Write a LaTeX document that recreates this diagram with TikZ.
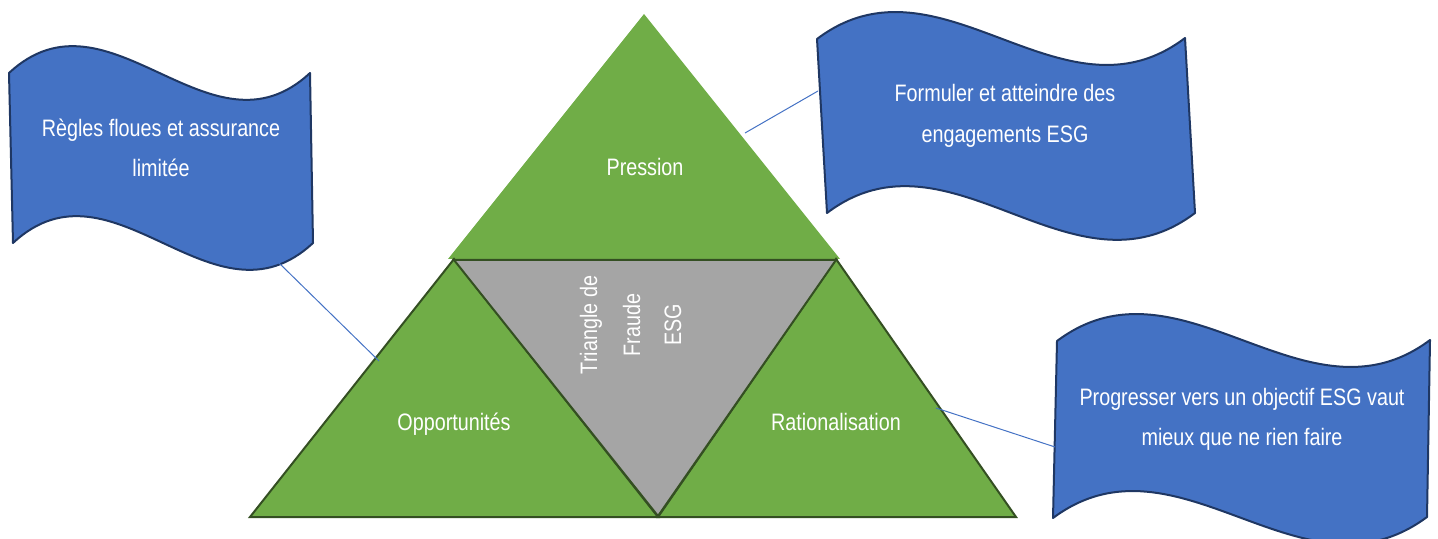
\documentclass[tikz,border=0pt]{standalone}
\usepackage{fontspec}
\setmainfont[FakeStretch=0.83]{Liberation Sans}
\definecolor{tgreen}{HTML}{70AD47}
\definecolor{tdark}{HTML}{344F22}
\definecolor{tgray}{HTML}{A5A5A5}
\definecolor{fblue}{HTML}{4472C4}
\definecolor{fedge}{HTML}{1F3763}
\tikzset{
  tri/.style={fill=tgreen, draw=tdark, line width=1pt, line join=miter},
  toptri/.style={fill=tgreen},
  midtri/.style={fill=tgray, draw=tdark, line width=1pt, line join=miter},
  flag/.style={fill=fblue, draw=fedge, line width=1pt, line join=round},
  lbl/.style={text=white, font=\fontsize{11.9}{20}\selectfont, inner sep=0pt, anchor=base},
  conn/.style={draw=fblue, line width=0.5pt},
}
\begin{document}
\begin{tikzpicture}[x=0.5pt,y=-0.5pt]
\useasboundingbox (0,0) rectangle (1438,539);
\clip (0,0) rectangle (1438,539);
% triangles
\path[toptri] (448,259) -- (644,14) -- (840,259) -- cycle;
\path[tri] (250,517) -- (454,259) -- (658,517) -- cycle;
\path[tri] (658,517) -- (836,259) -- (1016,517) -- cycle;
\path[midtri] (454,260) -- (836,260) -- (658,516) -- cycle;
% flags
\path[flag] (9,73) .. controls (109,-20) and (210,166) .. (310,73)
  -- (313,243) .. controls (213,336) and (113,150) .. (13,243) -- cycle;
\path[flag] (817,39) .. controls (940,-54) and (1062,131) .. (1185,38)
  -- (1195,213) .. controls (1072,306) and (950,120) .. (827,213) -- cycle;
\path[flag] (1057,341) .. controls (1181,248) and (1306,433) .. (1430,340)
  -- (1427,517) .. controls (1302,610) and (1178,425) .. (1053,518) -- cycle;
% connectors
\coordinate (lfb) at (279,263);
\coordinate (opl) at (379,361);
\coordinate (prr) at (745,133);
\coordinate (tfl) at (818,91);
\coordinate (rar) at (936,408);
\coordinate (brl) at (1055,447);
\draw[conn] (lfb) -- (opl);
\draw[conn] (prr) -- (tfl);
\draw[conn] (rar) -- (brl);
% triangle labels
\node[lbl] (pres) at (645,176) {Pression};
\node[lbl] (opp) at (454,430) {Opportunités};
\node[lbl] (rat) at (836,430) {Rationalisation};
\node[lbl, rotate=90] (tri1) at (597,325) {Triangle de};
\node[lbl, rotate=90] (tri2) at (640,325) {Fraude};
\node[lbl, rotate=90] (tri3) at (681,325) {ESG};
% flag labels
\node[lbl] (f1a) at (161,137) {Règles floues et assurance};
\node[lbl] (f1b) at (161,177) {limitée};
\node[lbl] (f2a) at (1005,102) {Formuler et atteindre des};
\node[lbl] (f2b) at (1005,143) {engagements ESG};
\node[lbl] (f3a) at (1242,405) {Progresser vers un objectif ESG vaut};
\node[lbl] (f3b) at (1242,445) {mieux que ne rien faire};
\end{tikzpicture}
\end{document}
